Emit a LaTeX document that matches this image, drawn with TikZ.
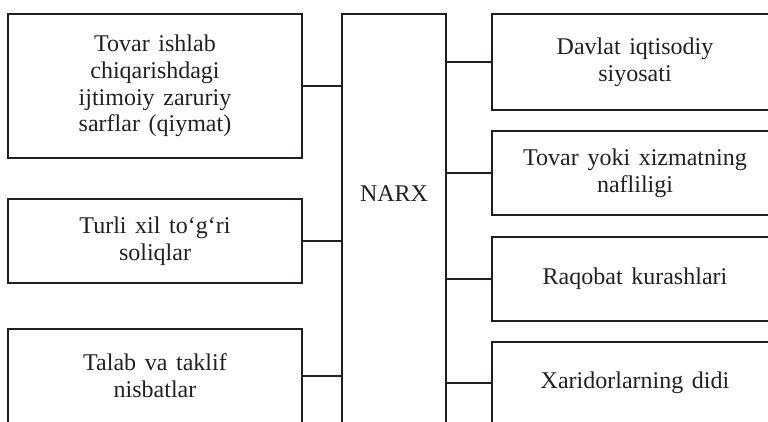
\documentclass[tikz,border=0pt]{standalone}
\usepackage{fontspec}
\setmainfont{Liberation Serif}
\definecolor{linec}{HTML}{231F20}
\newcommand{\boxfont}{\fontsize{24}{26.7}\selectfont\spaceskip=0.36em plus 0.1em\relax}
\begin{document}
\begin{tikzpicture}[x=1pt,y=-1pt,
  box/.style={draw=linec, line width=1.8pt, align=center, inner sep=0pt,
    font=\boxfont, text=linec},
  lbox/.style={box, minimum width=294pt},
  rbox/.style={box, minimum width=286pt},
  lbl/.style={font=\boxfont, text=linec, inner sep=0pt},
  conn/.style={draw=linec, line width=1.8pt}]
\useasboundingbox (0,0) rectangle (768,421);
\clip (0,0) rectangle (768,421);
\node[lbox, minimum height=144pt] (b1) at (155,86) {Tovar ishlab\\chiqarishdagi\\ijtimoiy zaruriy\\sarflar (qiymat)};
\node[lbox, minimum height=84pt] (b2) at (155,241) {Turli xil to‘g‘ri\\soliqlar};
\node[lbox, minimum height=94pt] (b3) at (155,376) {Talab va taklif\\nisbatlar};
\node[box, minimum width=104pt, minimum height=416pt] (narx) at (394,222) {};
\node[lbl] (narxt) at (394,194) {NARX};
\node[rbox, minimum height=96pt] (r1) at (635,62) {Davlat iqtisodiy\\siyosati};
\node[rbox, minimum height=84pt] (r2) at (635,173) {Tovar yoki xizmatning\\nafliligi};
\node[rbox, minimum height=84pt] (r3) at (635,279) {Raqobat kurashlari};
\node[rbox, minimum height=82pt] (r4) at (635,383) {Xaridorlarning didi};
\foreach \n in {b1,b2,b3}{\draw[conn] (\n.east) -- (\n.east -| narx.west);}
\foreach \n in {r1,r2,r3,r4}{\draw[conn] (\n.west) -- (\n.west -| narx.east);}
\end{tikzpicture}
\end{document}
